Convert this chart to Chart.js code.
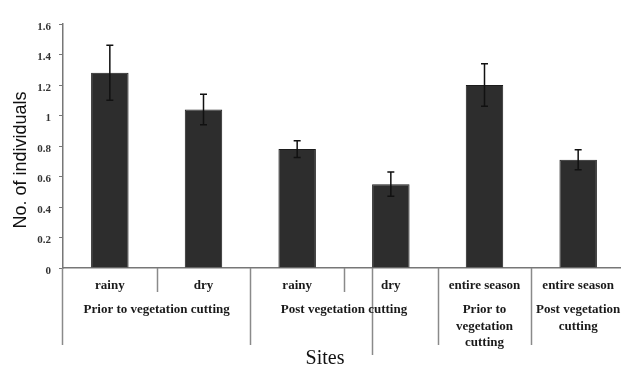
<!DOCTYPE html>
<html>
<head>
<meta charset="utf-8">
<style>
  html, body { margin: 0; padding: 0; background: #ffffff; }
  #wrap { width: 621px; height: 370px; position: relative; }
</style>
<script src="https://cdn.jsdelivr.net/npm/chart.js@4.4.1/dist/chart.umd.min.js"></script>
</head>
<body>
<div id="wrap"><canvas id="c" width="621" height="370"></canvas></div>
<script>
// Season labels (first row under the axis)
const seasons = ['rainy', 'dry', 'rainy', 'dry', 'entire season', 'entire season'];
// Mean number of individuals per site / season
const means = [1.28, 1.04, 0.78, 0.55, 1.20, 0.71];
// Standard errors
const errors = [0.18, 0.10, 0.055, 0.08, 0.14, 0.065];
// Treatment groups: label lines and the category span they cover
const groupLabels = [
  ['Prior to vegetation cutting'],
  ['Post vegetation cutting'],
  ['Prior to', 'vegetation', 'cutting'],
  ['Post vegetation', 'cutting']
];
const groupSpans = [[0, 1], [2, 3], [4, 4], [5, 5]];
const yTicks = [0, 0.2, 0.4, 0.6, 0.8, 1, 1.2, 1.4, 1.6];

const serifBold = 'bold 13px "Liberation Serif", "Times New Roman", serif';

// the category axis runs a few pixels past the right edge of the canvas
const widenX = {
  id: 'widenX',
  afterLayout(chart) {
    const x = chart.scales.x;
    x.right = chart.width + 4;
    x.width = x.right - x.left;
    x.configure();
  }
};

const decorations = {
  id: 'decorations',
  afterDatasetsDraw(chart) {
    const ctx = chart.ctx;
    const y = chart.scales.y;
    const meta = chart.getDatasetMeta(0);

    // error bars
    ctx.save();
    ctx.strokeStyle = '#111';
    ctx.lineWidth = 1.5;
    means.forEach((m, i) => {
      const cx = meta.data[i].x;
      const yt = y.getPixelForValue(m + errors[i]);
      const yb = y.getPixelForValue(m - errors[i]);
      ctx.beginPath();
      ctx.moveTo(cx, yt); ctx.lineTo(cx, yb);
      ctx.moveTo(cx - 3.5, yt); ctx.lineTo(cx + 3.5, yt);
      ctx.moveTo(cx - 3.5, yb); ctx.lineTo(cx + 3.5, yb);
      ctx.stroke();
    });
    ctx.restore();
  },
  afterDraw(chart) {
    const ctx = chart.ctx;
    const x = chart.scales.x;
    const area = chart.chartArea;
    const meta = chart.getDatasetMeta(0);
    const base = area.bottom;
    const bound = k => x.getPixelForValue(k + 0.5);

    ctx.save();
    ctx.strokeStyle = '#8a8a8a';
    ctx.lineWidth = 1.5;
    const vline = (px, y1, y2) => {
      ctx.beginPath(); ctx.moveTo(Math.round(px) + 0.5, y1); ctx.lineTo(Math.round(px) + 0.5, y2); ctx.stroke();
    };
    // axis extension and group dividers
    vline(area.left - 1, base, base + 77);
    vline(bound(0), base, base + 24);
    vline(bound(1), base, base + 77);
    vline(bound(2), base, base + 24);
    vline(meta.data[3].x - meta.data[3].width / 2, base, base + 87);
    vline(bound(3), base, base + 77);
    vline(bound(4), base, base + 77);
    ctx.restore();

    // group labels
    ctx.save();
    ctx.font = serifBold;
    ctx.fillStyle = '#1a1a1a';
    ctx.textAlign = 'center';
    ctx.textBaseline = 'middle';
    groupLabels.forEach((lines, g) => {
      const [a, b] = groupSpans[g];
      const cx = (x.getPixelForValue(a) + x.getPixelForValue(b)) / 2;
      lines.forEach((t, j) => ctx.fillText(t, cx, base + 42 + j * 16.5));
    });

    // axis titles
    ctx.font = '20px "Liberation Serif", "Times New Roman", serif';
    ctx.fillStyle = '#111';
    ctx.fillText('Sites', 325, 359);

    ctx.translate(21, 160);
    ctx.rotate(-Math.PI / 2);
    ctx.font = '18px "Liberation Sans", Arial, sans-serif';
    ctx.fillText('No. of individuals', 0, 0);
    ctx.restore();
  }
};

new Chart(document.getElementById('c'), {
  type: 'bar',
  data: {
    labels: seasons,
    datasets: [{
      data: means,
      backgroundColor: '#2d2d2d',
      borderColor: '#1c1c1c',
      borderWidth: 1,
      barPercentage: 0.8,
      categoryPercentage: 0.5
    }]
  },
  options: {
    responsive: false,
    animation: false,
    devicePixelRatio: 1,
    layout: { padding: { left: 0, right: 0, top: 24, bottom: 0 } },
    plugins: { legend: { display: false }, tooltip: { enabled: false } },
    scales: {
      x: {
        grid: { display: false, drawTicks: false },
        border: { display: true, color: '#777', width: 1.5 },
        ticks: {
          font: { family: '"Liberation Serif", "Times New Roman", serif', size: 13, weight: 'bold' },
          color: '#1a1a1a',
          padding: 10,
          maxRotation: 0,
          autoSkip: false
        },
        afterFit(scale) { scale.height = 102; }
      },
      y: {
        min: 0,
        max: 1.6,
        afterBuildTicks(scale) { scale.ticks = yTicks.map(v => ({ value: v })); },
        grid: { display: true, drawOnChartArea: false, drawTicks: true, tickLength: 4, color: '#777', lineWidth: 1 },
        border: { display: true, color: '#777', width: 1.5 },
        ticks: {
          font: { family: '"Liberation Serif", "Times New Roman", serif', size: 11, weight: 'bold' },
          color: '#333',
          padding: 8,
          labelOffset: 3,
          callback: v => String(Math.round(v * 10) / 10)
        },
        afterFit(scale) { scale.width = 63; }
      }
    }
  },
  plugins: [widenX, decorations]
});
</script>
</body>
</html>
